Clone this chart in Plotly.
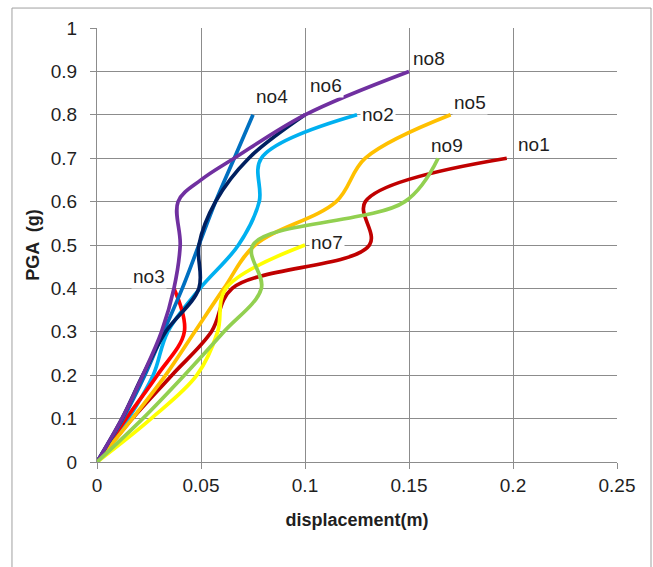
import plotly.graph_objects as go

# PGA levels (g)
pga_08 = [0, 0.1, 0.2, 0.3, 0.4, 0.5, 0.6, 0.7, 0.8]

no1_x = [0, 0.017, 0.036, 0.055, 0.065, 0.131, 0.129, 0.197]
no1_y = [0, 0.1, 0.2, 0.3, 0.4, 0.5, 0.6, 0.7]
no2_x = [0, 0.015, 0.027, 0.034, 0.0495, 0.068, 0.078, 0.079, 0.125]
no2_y = pga_08
no3_x = [0, 0.014, 0.029, 0.042, 0.037]
no3_y = [0, 0.1, 0.2, 0.3, 0.4]
no4_x = [0, 0.0125, 0.023, 0.032, 0.041, 0.049, 0.057, 0.066, 0.075]
no4_y = pga_08
no5_x = [0, 0.017, 0.033, 0.047, 0.061, 0.076, 0.115, 0.129, 0.17]
no5_y = pga_08
no6_x = [0, 0.012, 0.022, 0.033, 0.049, 0.049, 0.057, 0.073, 0.1]
no6_y = pga_08
no7_x = [0, 0.026, 0.048, 0.058, 0.062, 0.1]
no7_y = [0, 0.1, 0.2, 0.3, 0.4, 0.5]
no8_x = [0, 0.012, 0.022, 0.031, 0.037, 0.04, 0.039, 0.05, 0.066, 0.1, 0.15]
no8_y = [0, 0.1, 0.2, 0.3, 0.4, 0.5, 0.6, 0.65, 0.7, 0.8, 0.9]
no9_x = [0, 0.022, 0.042, 0.061, 0.079, 0.075, 0.148, 0.164]
no9_y = [0, 0.1, 0.2, 0.3, 0.4, 0.5, 0.6, 0.7]

names = ["no1", "no2", "no3", "no4", "no5", "no6", "no7", "no8", "no9"]
xs = [no1_x, no2_x, no3_x, no4_x, no5_x, no6_x, no7_x, no8_x, no9_x]
ys = [no1_y, no2_y, no3_y, no4_y, no5_y, no6_y, no7_y, no8_y, no9_y]
colors = ["#C00000", "#00B0F0", "#FF0000", "#0070C0", "#FFC000",
          "#002060", "#FFFF00", "#7030A0", "#92D050"]
# label offsets in pixels (x, y)
label_shift = [(27, 14), (21, 0), (-25, 12), (19, 18), (19, 12),
               (21, 29), (22, 3), (20, 13), (9, 13)]

xticks = [0, 0.05, 0.1, 0.15, 0.2, 0.25]
yticks = [0, 0.1, 0.2, 0.3, 0.4, 0.5, 0.6, 0.7, 0.8, 0.9, 1]

FONT = "Liberation Sans"
GRID = "#8C8C8C"
TXT = "#1F1F1F"

fig = go.Figure()
for n, x, y, c in zip(names, xs, ys, colors):
    fig.add_trace(go.Scatter(x=x, y=y, mode="lines", name=n,
                             line=dict(color=c, width=3.7, shape="spline", smoothing=1.0),
                             showlegend=False, hoverinfo="skip"))

annotations = []
for n, x, y, (dx, dy) in zip(names, xs, ys, label_shift):
    annotations.append(dict(x=x[-1], y=y[-1], xref="x", yref="y", text=n,
                            showarrow=False, xanchor="center", yanchor="middle",
                            xshift=dx, yshift=dy, bgcolor="white",
                            font=dict(family=FONT, size=19, color=TXT)))

fig.update_layout(
    width=653, height=567,
    margin=dict(l=97, r=36, t=28, b=105),
    paper_bgcolor="white", plot_bgcolor="white",
    annotations=annotations,
    shapes=[dict(type="rect", xref="paper", yref="paper",
                 x0=-0.1635, x1=1.0654, y0=-0.3, y1=1.046,
                 line=dict(color="#A0A0A0", width=1), layer="below")],
    xaxis=dict(range=[0, 0.25], tickvals=xticks, ticktext=[f"{v:g}" for v in xticks],
               showgrid=True, gridcolor=GRID, gridwidth=1,
               showline=True, linecolor=GRID, mirror=False,
               ticks="outside", ticklen=6, tickcolor=GRID, zeroline=False,
               tickfont=dict(family=FONT, size=19, color=TXT),
               title=dict(text="<b>displacement(m)</b>", standoff=18,
                          font=dict(family=FONT, size=18, color=TXT))),
    yaxis=dict(range=[0, 1], tickvals=yticks, ticktext=[f"{v:g}" for v in yticks],
               showgrid=True, gridcolor=GRID, gridwidth=1,
               showline=True, linecolor=GRID, mirror=False,
               ticks="outside", ticklen=6, tickcolor=GRID, zeroline=False,
               ticklabelstandoff=9,
               tickfont=dict(family=FONT, size=19, color=TXT),
               title=dict(text="<b>PGA  (g)</b>", standoff=6,
                          font=dict(family=FONT, size=18, color=TXT))),
)
fig.write_html("out.html")
